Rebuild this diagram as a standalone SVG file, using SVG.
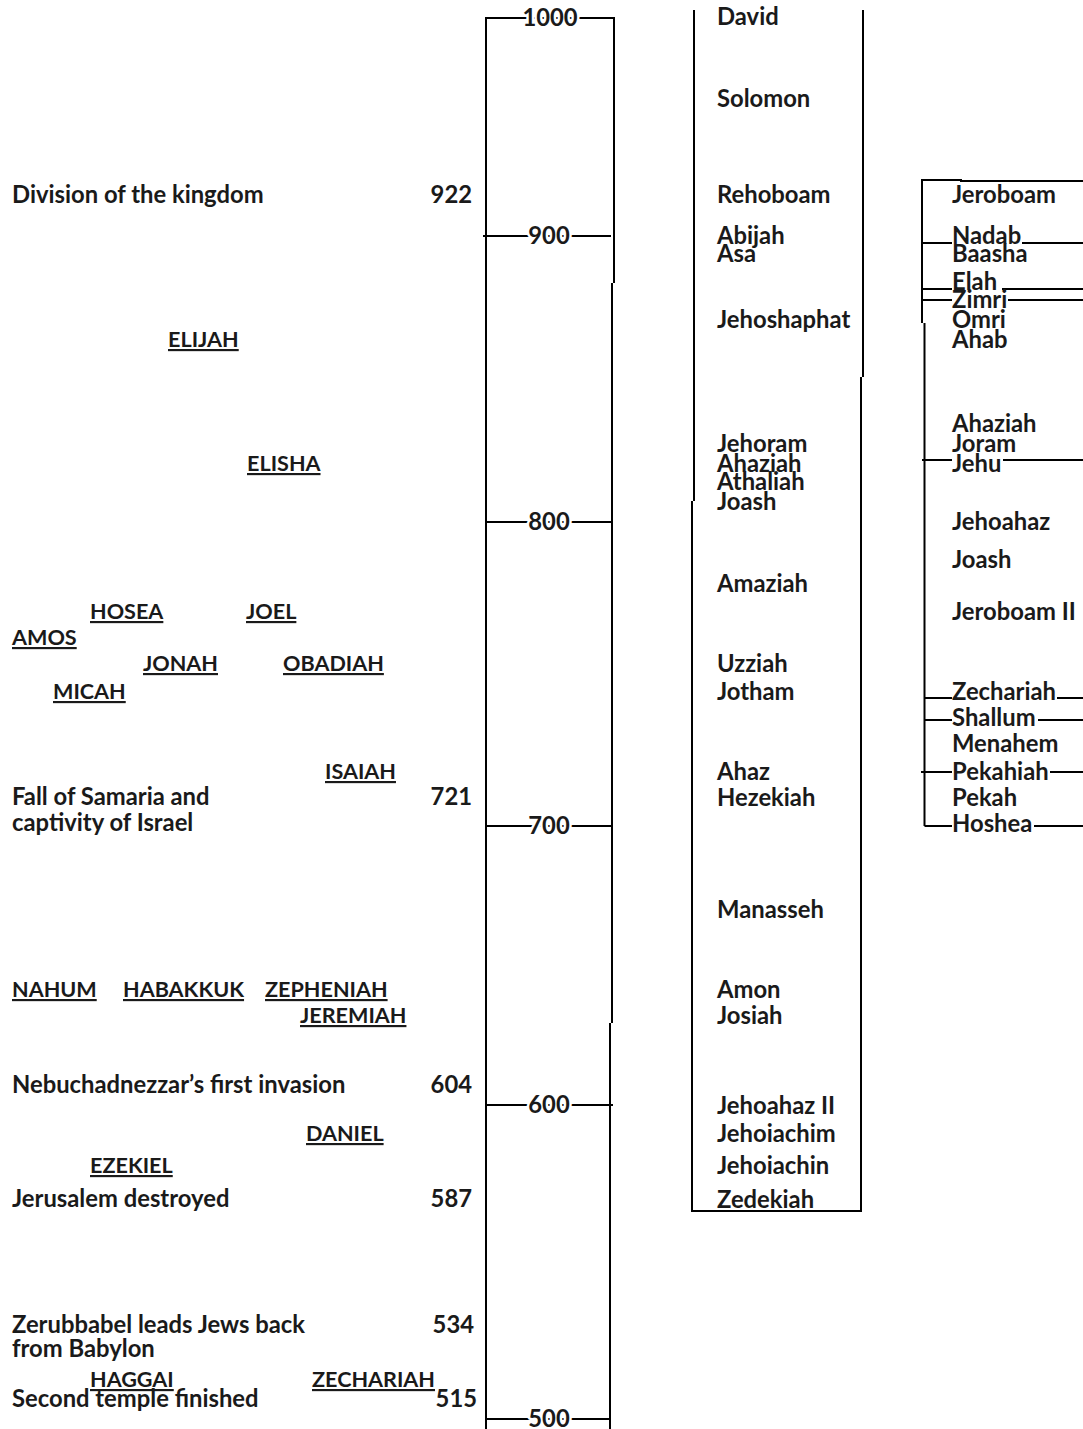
<svg xmlns="http://www.w3.org/2000/svg" width="1083" height="1429" viewBox="0 0 1083 1429">
<style>
text{font-family:"Lato","Carlito","Liberation Sans",sans-serif;font-size:23.8px;font-weight:bold;fill:#1a1a1a}
.n{text-anchor:end}
.t{text-anchor:middle;stroke:#fff;stroke-width:5px;paint-order:stroke;stroke-linejoin:round}
.u{font-size:21.6px;text-decoration:underline;text-decoration-thickness:2px}
.ln{stroke:#000;stroke-width:2;fill:none}
</style>
<rect width="1083" height="1429" fill="#fff"/>
<g id="connectors">
<g id="timeline-axis">
<path class="ln" d="M486 1429V18H614V283M612 283V1023M610 1023V1429"/>
<path class="ln" d="M483 236H611M486 522H612M486 826H612M486 1105H613M486 1419H610"/>
</g>
<g id="judah-lines">
<path class="ln" d="M694 10V501M692 501V1211H861V377M863 377V10"/>
</g>
<g id="israel-lines">
<path class="ln" d="M1083 181H961V180H922V323M924.5 323V826"/>
<path class="ln" d="M922 243H952M1022 243H1083M922 289H952M1002 289H1083M922 300H952M1008 300H1083M922 460H952M1003 460H1083M925 698H952M1057 698H1083M925 720H952M1038 720H1083M921 772H952M1050 772H1083M924.5 826H952M1034 826H1083"/>
</g>
</g>
<g id="axis-labels">
<text class="t" x="550" y="26">1000</text>
<text class="t" x="549" y="244">900</text>
<text class="t" x="549" y="530">800</text>
<text class="t" x="549" y="834">700</text>
<text class="t" x="549" y="1113">600</text>
<text class="t" x="549" y="1427">500</text>
</g>
<g id="judah">
<text x="717" y="25">David</text>
<text x="717" y="107">Solomon</text>
<text x="717" y="203">Rehoboam</text>
<text x="717" y="244">Abijah</text>
<text x="717" y="262">Asa</text>
<text x="717" y="328">Jehoshaphat</text>
<text x="717" y="452">Jehoram</text>
<text x="717" y="472">Ahaziah</text>
<text x="717" y="490">Athaliah</text>
<text x="717" y="510">Joash</text>
<text x="717" y="592">Amaziah</text>
<text x="717" y="672">Uzziah</text>
<text x="717" y="700">Jotham</text>
<text x="717" y="780">Ahaz</text>
<text x="717" y="806">Hezekiah</text>
<text x="717" y="918">Manasseh</text>
<text x="717" y="998">Amon</text>
<text x="717" y="1024">Josiah</text>
<text x="717" y="1114">Jehoahaz II</text>
<text x="717" y="1142">Jehoiachim</text>
<text x="717" y="1174">Jehoiachin</text>
<text x="717" y="1208">Zedekiah</text>
</g>
<g id="israel">
<text x="952" y="203">Jeroboam</text>
<text x="952" y="244">Nadab</text>
<text x="952" y="262">Baasha</text>
<text x="952" y="290">Elah</text>
<text x="952" y="308">Zimri</text>
<text x="952" y="328">Omri</text>
<text x="952" y="348">Ahab</text>
<text x="952" y="432">Ahaziah</text>
<text x="952" y="452">Joram</text>
<text x="952" y="472">Jehu</text>
<text x="952" y="530">Jehoahaz</text>
<text x="952" y="568">Joash</text>
<text x="952" y="620">Jeroboam II</text>
<text x="952" y="700">Zechariah</text>
<text x="952" y="726">Shallum</text>
<text x="952" y="752">Menahem</text>
<text x="952" y="780">Pekahiah</text>
<text x="952" y="806">Pekah</text>
<text x="952" y="832">Hoshea</text>
</g>
<g id="events">
<text x="12" y="203">Division of the kingdom</text>
<text class="n" x="472" y="203">922</text>
<text x="12" y="805">Fall of Samaria and</text>
<text x="12" y="831">captivity of Israel</text>
<text class="n" x="472" y="805">721</text>
<text x="12" y="1093">Nebuchadnezzar’s first invasion</text>
<text class="n" x="472" y="1093">604</text>
<text x="12" y="1207">Jerusalem destroyed</text>
<text class="n" x="472" y="1207">587</text>
<text x="12" y="1333">Zerubbabel leads Jews back</text>
<text x="12" y="1357">from Babylon</text>
<text class="n" x="474" y="1333">534</text>
<text x="12" y="1407">Second temple finished</text>
<text class="n" x="477" y="1407">515</text>
</g>
<g id="prophets">
<text class="u" x="168" y="347">ELIJAH</text>
<text class="u" x="247" y="471">ELISHA</text>
<text class="u" x="90" y="619">HOSEA</text>
<text class="u" x="246" y="619">JOEL</text>
<text class="u" x="12" y="645">AMOS</text>
<text class="u" x="143" y="671">JONAH</text>
<text class="u" x="283" y="671">OBADIAH</text>
<text class="u" x="53" y="699">MICAH</text>
<text class="u" x="325" y="779">ISAIAH</text>
<text class="u" x="12" y="997">NAHUM</text>
<text class="u" x="123" y="997">HABAKKUK</text>
<text class="u" x="265" y="997">ZEPHENIAH</text>
<text class="u" x="300" y="1023">JEREMIAH</text>
<text class="u" x="306" y="1141">DANIEL</text>
<text class="u" x="90" y="1173">EZEKIEL</text>
<text class="u" x="90" y="1387">HAGGAI</text>
<text class="u" x="312" y="1387">ZECHARIAH</text>
</g>
</svg>
